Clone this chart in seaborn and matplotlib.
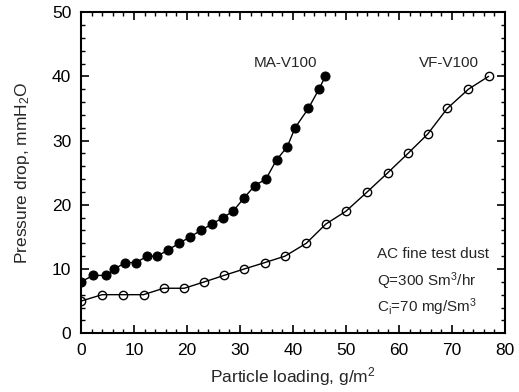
import matplotlib
matplotlib.use("Agg")
import matplotlib.pyplot as plt
import seaborn as sns
from matplotlib.ticker import MultipleLocator

# ------------------------------------------------------
# Data
# ------------------------------------------------------
ma_loading = [0, 2.3, 4.8, 6.3, 8.4, 10.4, 12.5, 14.4, 16.5, 18.5, 20.6, 22.6,
              24.7, 26.8, 28.7, 30.7, 32.8, 34.9, 36.9, 38.9, 40.4, 42.9, 44.9, 46.1]
ma_dp = [8, 9, 9, 10, 11, 11, 12, 12, 13, 14, 15, 16,
         17, 18, 19, 21, 23, 24, 27, 29, 32, 35, 38, 40]

vf_loading = [0, 4.0, 7.9, 11.8, 15.6, 19.5, 23.3, 27.0, 30.8, 34.7, 38.5,
              42.5, 46.2, 50.0, 54.0, 57.9, 61.7, 65.4, 69.1, 73.1, 76.9]
vf_dp = [5, 6, 6, 6, 7, 7, 8, 9, 10, 11, 12,
         14, 17, 19, 22, 25, 28, 31, 35, 38, 40]

# ------------------------------------------------------
# Plot
# ------------------------------------------------------
sns.set_style("ticks")
plt.rcParams['font.family'] = ['Liberation Sans', 'DejaVu Sans']
plt.rcParams['mathtext.default'] = 'regular'

fig = plt.figure(figsize=(5.19, 3.92), dpi=100)
ax = fig.add_axes([0.156, 0.150, 0.817, 0.819])

sns.lineplot(x=ma_loading, y=ma_dp, ax=ax, color="black", linewidth=1.0,
             marker="o", markersize=6.5, markerfacecolor="black",
             markeredgecolor="black", sort=False)
sns.lineplot(x=vf_loading, y=vf_dp, ax=ax, color="black", linewidth=1.0,
             marker="o", markersize=6, markerfacecolor="none",
             markeredgecolor="black", markeredgewidth=1.0, sort=False)

ax.set_xlim(0, 80)
ax.set_ylim(0, 50)
ax.xaxis.set_major_locator(MultipleLocator(10))
ax.xaxis.set_minor_locator(MultipleLocator(2))
ax.yaxis.set_major_locator(MultipleLocator(10))
ax.yaxis.set_minor_locator(MultipleLocator(2))
ax.tick_params(which="both", direction="in", top=True, right=True,
               colors="black", labelsize=12.5)
ax.tick_params(which="major", length=6, width=1.2, pad=7)
ax.tick_params(which="minor", length=3, width=1.0)
for s in ax.spines.values():
    s.set_linewidth(1.5)
    s.set_color("black")

ax.set_xlabel("Particle loading, g/m$^2$", fontsize=12.5, labelpad=5)
ax.set_ylabel("Pressure drop, mmH$_2$O", fontsize=12.5, labelpad=14)

ax.text(38.5, 41, "MA-V100", fontsize=11, ha="center", va="bottom")
ax.text(75, 41, "VF-V100", fontsize=11, ha="right", va="bottom")
ax.text(55.8, 12.3, "AC fine test dust", fontsize=11, ha="left", va="center")
ax.text(55.8, 8.1, "Q=300 Sm$^3$/hr", fontsize=11, ha="left", va="center")
ax.text(55.8, 4.0, "C$_i$=70 mg/Sm$^3$", fontsize=11, ha="left", va="center")

plt.savefig("out.png", dpi=100)
